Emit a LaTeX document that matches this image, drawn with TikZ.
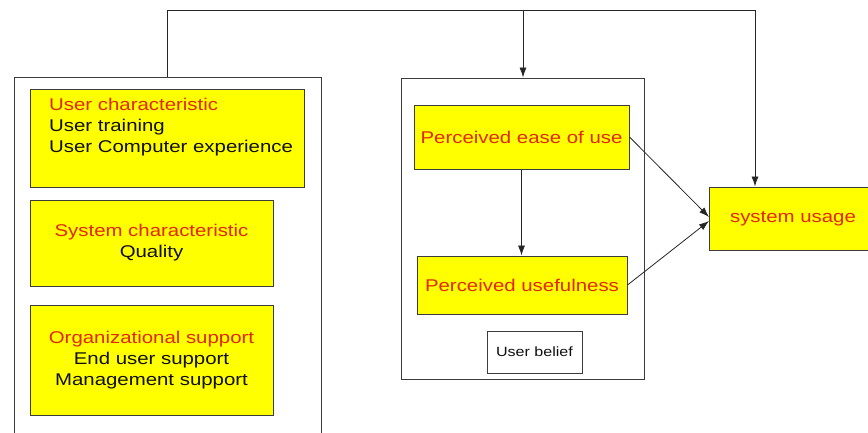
\documentclass[tikz,border=0pt]{standalone}
\usepackage{fontspec}
\setmainfont{Liberation Sans}[FakeStretch=1.2]
\usetikzlibrary{arrows.meta}
\definecolor{boxyellow}{RGB}{255,255,0}
\definecolor{headred}{RGB}{225,40,0}
\definecolor{edgegray}{RGB}{60,60,60}
\definecolor{bodytext}{RGB}{15,15,15}
\begin{document}
\begin{tikzpicture}[x=1pt,y=-1pt,
  panel/.style={draw=edgegray, line width=1pt, fill=white, inner sep=0pt},
  factor/.style={draw=edgegray, line width=1pt, fill=boxyellow, inner sep=0pt,
    align=center, font=\fontsize{17}{21}\selectfont, text=bodytext},
  link/.style={draw=black!85, line width=0.8pt},
  arr/.style={link, -{Latex[length=10pt,width=7pt]}}
]
\clip (0,0) rectangle (868,432);
\fill[white] (0,0) rectangle (868,432);

% left panel: external factors (runs past the lower edge)
\node[panel, minimum width=307pt, minimum height=363pt] (factors) at (167.5,258.5) {};
\node[factor, minimum width=274pt, minimum height=98pt] (uc) at (167,138) {};
\node[anchor=west, align=left, inner sep=0pt, font=\fontsize{17}{21}\selectfont, text=bodytext]
  (uctext) at (49,127) {\textcolor{headred}{User characteristic}\\User training\\User Computer experience};
\node[factor, minimum width=243pt, minimum height=86pt] (sc) at (151.5,243)
  {\textcolor{headred}{System characteristic}\\Quality};
\node[factor, minimum width=243pt, minimum height=110pt] (os) at (151.5,360)
  {\textcolor{headred}{Organizational support}\\End user support\\Management support};

% middle panel: user belief
\node[panel, minimum width=243pt, minimum height=301pt] (belief) at (522.5,228.5) {};
\node[factor, minimum width=215pt, minimum height=64pt, text=headred] (peou) at (521.5,137) {Perceived ease of use};
\node[factor, minimum width=210pt, minimum height=58pt, text=headred] (pu) at (522,285) {Perceived usefulness};
\node[panel, minimum width=95pt, minimum height=42pt, font=\fontsize{13.4}{16}\selectfont, text=bodytext] (ub) at (534.5,352) {User belief};

% outcome
\node[factor, minimum width=168pt, minimum height=63pt, text=headred] (su) at (793,218.5) {system usage};

% connectors
\coordinate (topM) at (523,10);
\coordinate (topR) at (755,10);
\coordinate (suInA) at (709,217);
\coordinate (suInB) at (709,221);
\draw[link] (factors.north) |- (topR);
\draw[arr] (topM) -- (topM |- belief.north);
\draw[arr] (topR) -- (topR |- su.north);
\draw[arr] (peou.south) -- (peou.south |- pu.north);
\draw[arr] (peou.east) -- (suInA);
\draw[arr] (pu.east) -- (suInB);
\end{tikzpicture}
\end{document}
